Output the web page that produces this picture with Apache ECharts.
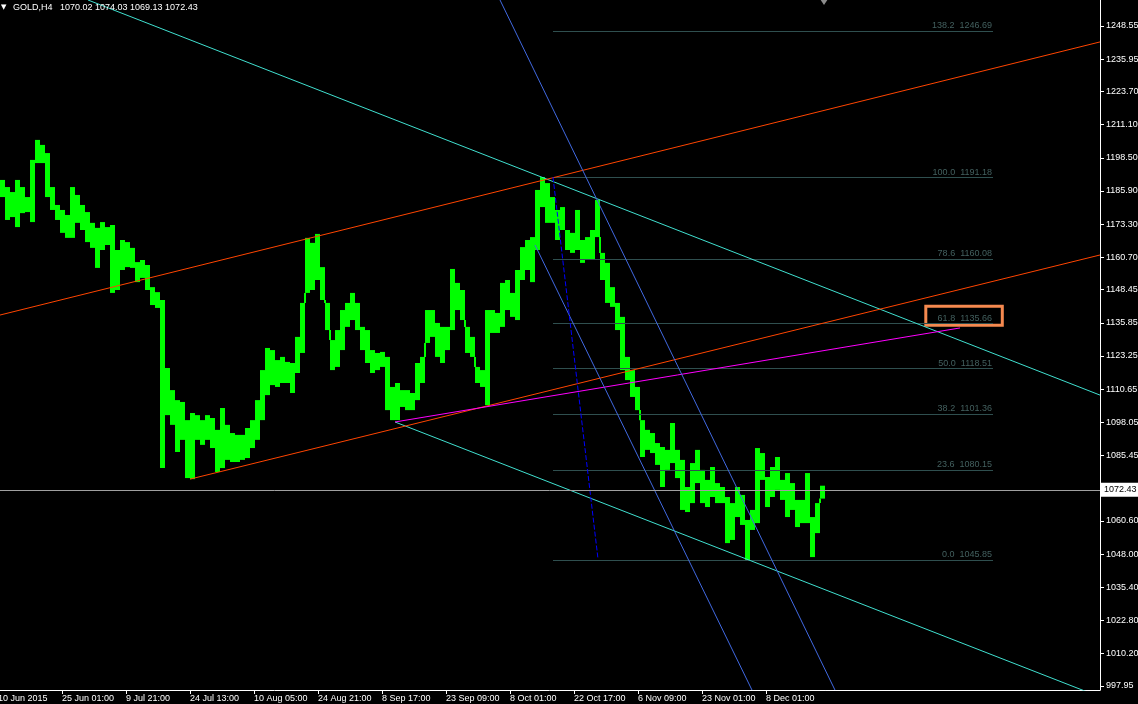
<!DOCTYPE html>
<html>
<head>
<meta charset="utf-8">
<script src="https://cdn.jsdelivr.net/npm/echarts@6.0.0/dist/echarts.min.js"></script>
<style>html,body{margin:0;padding:0;background:#000;}#c{width:1138px;height:704px;}</style>
</head>
<body>
<div id="c"></div>
<script>
// ---- data ----
const SYMBOL = 'GOLD,H4';
const OHLC_LAST = ['1070.02', '1074.03', '1069.13', '1072.43'];
const LAST_PRICE = 1072.43;

// x axis: H4 bar index (1 bar = 1 px in the source chart)
const X_TICK_BARS = [0, 64, 128, 192, 256, 320, 384, 448, 512, 576, 640, 704, 768];
const X_TICK_LABELS = ['10 Jun 2015', '25 Jun 01:00', '9 Jul 21:00', '24 Jul 13:00', '10 Aug 05:00',
  '24 Aug 21:00', '8 Sep 17:00', '23 Sep 09:00', '8 Oct 01:00', '22 Oct 17:00', '6 Nov 09:00',
  '23 Nov 01:00', '8 Dec 01:00'];
const Y_TICKS = [1248.55, 1235.95, 1223.70, 1211.10, 1198.50, 1185.90, 1173.30, 1160.70, 1148.45,
  1135.85, 1123.25, 1110.65, 1098.05, 1085.45, 1060.60, 1048.00, 1035.40, 1022.80, 1010.20, 997.95];
const X_MIN = 0, X_MAX = 1102;
const Y_MIN = 996.43, Y_MAX = 1258.42;

// price envelope (high / low) of consecutive groups of 5 H4 bars
const GROUP_START_BAR = 2;
const GROUP_BARS = 5;
const highs = [1190.1,1187.4,1185.5,1190.1,1187.4,1183.6,1197.7,1205.3,1203.4,1200.3,
  1187.4,1180.6,1178.7,1176.8,1187.4,1184.4,1180.6,1177.9,1173.8,1171.9,
  1174.1,1172.2,1173.0,1163.5,1167.3,1166.5,1164.3,1158.9,1159.7,1157.8,
  1149.4,1147.5,1144.5,1118.7,1110.3,1106.5,1105.8,1098.9,1101.6,1100.8,
  1098.9,1100.8,1099.7,1095.2,1103.5,1097.1,1094.0,1093.3,1093.3,1095.9,
  1098.9,1106.5,1117.9,1126.3,1125.5,1121.7,1122.9,1121.0,1120.6,1130.5,
  1143.4,1168.1,1166.2,1169.6,1157.0,1143.4,1129.3,1133.1,1140.7,1143.4,
  1147.2,1143.4,1134.3,1133.1,1125.5,1124.4,1124.8,1122.9,1111.5,1113.0,
  1110.3,1110.3,1109.2,1120.6,1122.9,1140.7,1140.7,1135.8,1134.3,1134.3,
  1156.3,1151.0,1148.3,1134.3,1130.5,1119.1,1117.9,1140.7,1140.7,1139.6,
  1151.0,1152.1,1147.2,1155.9,1164.6,1167.3,1168.4,1186.3,1191.2,1188.9,
  1183.6,1178.7,1179.8,1171.1,1170.0,1178.7,1167.3,1168.4,1171.1,1182.5,
  1162.4,1158.6,1149.4,1143.4,1138.1,1122.9,1117.9,1111.5,1098.9,1095.2,
  1094.0,1090.2,1088.7,1087.6,1097.8,1087.6,1083.8,1073.5,1082.6,1087.6,
  1080.0,1076.2,1081.1,1075.0,1073.5,1069.7,1067.4,1073.5,1070.5,1061.0,
  1064.8,1088.3,1086.4,1077.3,1081.1,1084.9,1076.2,1078.8,1075.0,1068.6,
  1068.6,1078.8,1062.1,1067.4,1074.0];
const lows = [1183.6,1174.9,1176.0,1172.2,1177.5,1177.9,1174.1,1196.5,1196.5,1183.6,
  1178.7,1174.9,1170.0,1168.1,1168.1,1173.8,1171.1,1166.5,1164.3,1156.7,
  1163.5,1165.4,1147.2,1148.3,1155.9,1157.0,1156.7,1151.3,1152.9,1148.3,
  1142.6,1141.5,1080.7,1100.8,1097.1,1086.8,1091.4,1076.9,1076.5,1091.4,
  1089.5,1091.4,1088.3,1079.2,1080.7,1083.8,1083.0,1083.0,1083.8,1084.5,
  1088.3,1091.4,1098.9,1108.4,1112.2,1111.5,1113.0,1113.0,1109.2,1116.8,
  1124.4,1147.2,1148.3,1152.1,1144.5,1133.1,1117.9,1119.1,1125.5,1134.3,
  1136.9,1133.1,1125.5,1120.6,1116.8,1117.9,1119.1,1102.7,1098.9,1098.9,
  1103.9,1102.7,1102.7,1106.5,1113.0,1128.2,1130.5,1122.9,1120.6,1125.5,
  1133.1,1140.7,1136.9,1124.4,1122.9,1113.0,1111.5,1104.6,1132.0,1132.0,
  1134.3,1140.7,1138.1,1136.9,1152.1,1155.9,1151.3,1163.5,1179.8,1173.8,
  1173.8,1167.3,1171.1,1163.5,1162.4,1163.5,1158.6,1159.7,1159.7,1168.4,
  1152.1,1143.4,1141.9,1133.1,1117.9,1114.1,1107.7,1102.7,1084.9,1087.6,
  1086.4,1081.9,1073.5,1080.0,1082.6,1076.9,1064.8,1064.0,1067.4,1075.0,
  1067.4,1065.9,1069.7,1067.4,1067.4,1052.2,1053.4,1062.1,1059.1,1045.8,
  1057.2,1059.8,1076.2,1065.9,1069.7,1072.4,1068.6,1062.1,1064.8,1058.3,
  1059.8,1059.8,1046.9,1056.0,1069.1];

// trend lines: [[bar, price], [bar, price]]
const cyanUpper = [[90, 1258.42], [1102, 1108.4]];
const cyanLower = [[397, 1098.2], [1102, 993.8]];
const orangeUpper = [[2, 1138.8], [1102, 1242.5]];
const orangeLower = [[192, 1076.5], [1102, 1161.6]];
const magentaLine = [[397, 1098.2], [962, 1133.9]];
const blueOuter = [[502, 1258.42], [837, 996.4]];
const blueInner = [[537, 1165.4], [754, 996.4]];
const blueDashed = [[555, 1191.2], [600, 1046.2]];

// Fibonacci retracement
const FIB_LEVELS = ['138.2', '100.0', '78.6', '61.8', '50.0', '38.2', '23.6', '0.0'];
const FIB_PRICES = [1246.69, 1191.18, 1160.08, 1135.66, 1118.51, 1101.36, 1080.15, 1045.85];
const FIB_START_BAR = 555, FIB_END_BAR = 995;

// highlight box around 61.8 level: [[bar, price], [bar, price]]
const highlightBox = [[927.8, 1142.1], [1004.3, 1134.9]];
const shiftMarker = [826, 1258.42];

// ---- chart ----
const FONT = '"Liberation Sans", Arial, sans-serif';
const chart = echarts.init(document.getElementById('c'), null, {renderer: 'canvas'});

function lineSeries(data, color, extra) {
  return Object.assign({
    type: 'line', data: data, symbol: 'none', showSymbol: false, silent: true, z: 4,
    lineStyle: {color: color, width: 1}, clip: true, animation: false
  }, extra || {});
}

const candleData = highs.map((h, i) => [GROUP_START_BAR + i * GROUP_BARS, h, lows[i]]);
const fibData = FIB_PRICES.map((p, i) => [FIB_START_BAR, p, FIB_END_BAR, i]);

const option = {
  backgroundColor: '#000',
  animation: false,
  textStyle: {fontFamily: FONT},
  title: {
    text: '{t|▼}' + SYMBOL + '   ' + OHLC_LAST.join(' '),
    left: 1, top: 3, padding: 0,
    textStyle: {
      color: '#fff', fontSize: 9, fontWeight: 'normal', fontFamily: FONT,
      rich: {t: {fontSize: 7, width: 12, color: '#fff', fontFamily: 'DejaVu Sans'}}
    }
  },
  grid: {left: -2, right: 38, top: 0, bottom: 14, containLabel: false, outerBoundsMode: 'none'},
  xAxis: {
    type: 'value', min: X_MIN, max: X_MAX,
    splitLine: {show: false},
    axisLine: {show: true, onZero: false, lineStyle: {color: '#fff', width: 1}},
    axisTick: {show: true, customValues: X_TICK_BARS, length: 4, lineStyle: {color: '#fff'}},
    axisLabel: {
      customValues: X_TICK_BARS,
      formatter: v => X_TICK_LABELS[X_TICK_BARS.indexOf(v)],
      color: '#fff', fontSize: 9, fontFamily: FONT, align: 'left', margin: 4
    }
  },
  yAxis: {
    type: 'value', position: 'right', min: Y_MIN, max: Y_MAX,
    splitLine: {show: false},
    axisLine: {show: true, onZero: false, lineStyle: {color: '#fff', width: 1}},
    axisTick: {show: true, customValues: Y_TICKS, length: 4, lineStyle: {color: '#fff'}},
    axisLabel: {
      customValues: Y_TICKS,
      formatter: v => Number(v).toFixed(2),
      color: '#fff', fontSize: 9, fontFamily: FONT, margin: 6
    }
  },
  series: [
    {
      type: 'custom', coordinateSystem: 'cartesian2d', silent: true, z: 2,
      data: candleData,
      encode: {x: 0, y: [1, 2]},
      clip: true,
      renderItem: (params, api) => {
        const x0 = api.value(0), hi = api.value(1), lo = api.value(2);
        const p1 = api.coord([x0, hi]);
        const p2 = api.coord([x0 + GROUP_BARS, lo]);
        const children = [{
          type: 'rect',
          shape: {x: p1[0], y: p1[1], width: p2[0] - p1[0], height: Math.max(1, p2[1] - p1[1])},
          style: {fill: '#00ff00'}
        }];
        const i = params.dataIndex;
        if (i > 0) {
          const prev = candleData[i - 1];
          let a = null, b = null;
          if (lo > prev[1]) { a = prev[1]; b = lo; }
          else if (hi < prev[2]) { a = hi; b = prev[2]; }
          if (a !== null) {
            const q1 = api.coord([x0, b]);
            const q2 = api.coord([x0, a]);
            children.push({
              type: 'rect',
              shape: {x: Math.round(q1[0]) - 1, y: q1[1], width: 2, height: q2[1] - q1[1]},
              style: {fill: '#00ff00'}
            });
          }
        }
        return {type: 'group', children: children};
      }
    },
    {
      type: 'custom', coordinateSystem: 'cartesian2d', silent: true, z: 3,
      data: fibData,
      encode: {x: [0, 2], y: 1},
      renderItem: (params, api) => {
        const a = api.coord([api.value(0), api.value(1)]);
        const b = api.coord([api.value(2), api.value(1)]);
        const i = api.value(3);
        const yy = Math.round(a[1]) + 0.5;
        return {
          type: 'group',
          children: [
            {type: 'line', shape: {x1: a[0], y1: yy, x2: b[0], y2: yy},
             style: {stroke: '#2f4f4f', lineWidth: 1}},
            {type: 'text', x: b[0] - 1, y: a[1] - 0.5,
             style: {text: FIB_LEVELS[i] + '  ' + FIB_PRICES[i].toFixed(2), fill: '#43605f',
                     font: '9px ' + FONT, align: 'right', verticalAlign: 'bottom'}}
          ]
        };
      }
    },
    lineSeries(cyanUpper, '#40e0d0', {
      markLine: {
        silent: true, symbol: ['none', 'none'], animation: false,
        lineStyle: {color: '#a0a0a0', width: 1, type: 'solid'},
        label: {
          show: true, position: 'end', distance: 1, formatter: LAST_PRICE.toFixed(2),
          color: '#000', backgroundColor: '#fff', fontSize: 9, fontFamily: FONT,
          padding: [2, 3, 2, 3], lineHeight: 10
        },
        data: [{yAxis: LAST_PRICE}]
      },
      markArea: {
        silent: true,
        itemStyle: {color: 'rgba(0,0,0,0)', borderColor: '#f5894f', borderWidth: 3},
        label: {show: false},
        data: [[{coord: highlightBox[0]}, {coord: highlightBox[1]}]]
      },
      markPoint: {
        silent: true, symbol: 'triangle', symbolRotate: 180, symbolSize: [8, 6],
        symbolOffset: [0, 2], itemStyle: {color: '#8c8c8c'}, label: {show: false},
        data: [{coord: shiftMarker}]
      }
    }),
    lineSeries(cyanLower, '#40e0d0'),
    lineSeries(orangeUpper, '#ff4500'),
    lineSeries(orangeLower, '#ff4500'),
    lineSeries(magentaLine, '#ff00ff'),
    lineSeries(blueOuter, '#4169e1'),
    lineSeries(blueInner, '#4169e1'),
    lineSeries(blueDashed, '#0000ff', {lineStyle: {color: '#0000ff', width: 1, type: [5, 2]}})
  ]
};
chart.setOption(option);
</script>
</body>
</html>
